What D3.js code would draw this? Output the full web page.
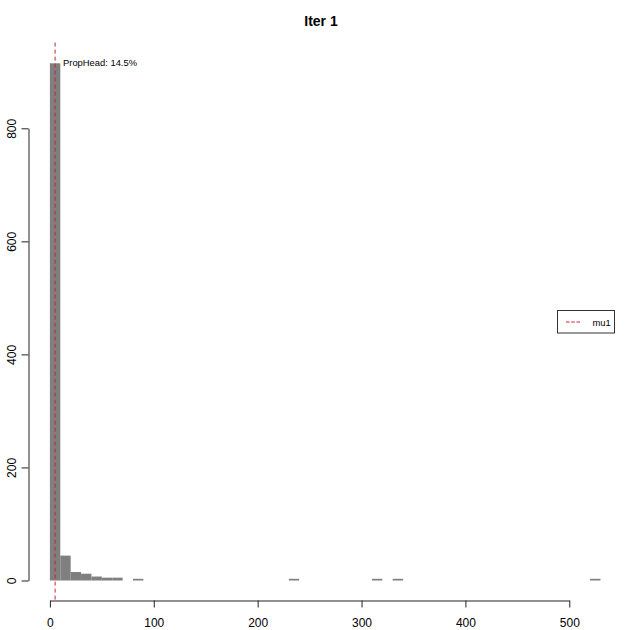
<!DOCTYPE html>
<html>
<head>
<meta charset="utf-8">
<script src="https://cdn.jsdelivr.net/npm/d3@7"></script>
<style>
  html, body { margin: 0; padding: 0; background: #ffffff; }
  svg { display: block; font-family: "Liberation Sans", Arial, sans-serif; }
</style>
</head>
<body>
<svg id="chart" width="630" height="630"></svg>
<script>
// ---- data ----
const binStarts = [0, 10, 20, 30, 40, 50, 60, 80, 230, 310, 330, 520];
const binWidth = 10;
const counts    = [915, 44, 15, 12, 7, 5, 5, 3, 3, 3, 3, 3];
const xTicks = [0, 100, 200, 300, 400, 500];
const yTicks = [0, 200, 400, 600, 800];
const mu1 = 5;
const titleText = "Iter 1";
const annotText = "PropHead: 14.5%";
const legendLabels = ["mu1"];

// ---- scales ----
const svg = d3.select("#chart");
const x = d3.scaleLinear().domain([0, 500]).range([49.9, 569.3]);
const y = d3.scaleLinear().domain([0, 800]).range([580.5, 128.3]);
const yMax = d3.max(counts);
const yExt = 0.04 * yMax;

// title
svg.append("text")
  .attr("x", 321).attr("y", 26)
  .attr("text-anchor", "middle")
  .attr("font-size", 14).attr("font-weight", "bold")
  .attr("fill", "#000")
  .text(titleText);

// bars
const bins = binStarts.map((s, i) => ({ x0: s, x1: s + binWidth, n: counts[i] }));
svg.append("g").selectAll("rect").data(bins).join("rect")
  .attr("x", d => x(d.x0))
  .attr("width", d => x(d.x1) - x(d.x0))
  .attr("y", d => y(d.n))
  .attr("height", d => y(0) - y(d.n))
  .attr("fill", "#7f7f7f");

// mu1 vertical dashed line
svg.append("line")
  .attr("x1", x(mu1)).attr("x2", x(mu1))
  .attr("y1", y(yMax + yExt)).attr("y2", y(-yExt))
  .attr("stroke", "#d0202e").attr("stroke-width", 1)
  .attr("stroke-dasharray", "4,3");

// annotation
svg.append("text")
  .attr("x", 63).attr("y", 66)
  .attr("font-size", 9.4).attr("fill", "#000")
  .text(annotText);

// x axis
const xAxis = svg.append("g")
  .attr("transform", "translate(0,600.5)")
  .call(d3.axisBottom(x).tickValues(xTicks).tickSize(7).tickSizeOuter(0).tickPadding(11).tickFormat(d3.format("d")));
xAxis.selectAll("path, line").attr("stroke", "#222");
xAxis.selectAll("text").attr("font-size", 12).attr("fill", "#000")
  .attr("font-family", "Liberation Sans, Arial, sans-serif");

// y axis
const yAxis = svg.append("g")
  .attr("transform", "translate(28.5,0)")
  .call(d3.axisLeft(y).tickValues(yTicks).tickSize(7).tickSizeOuter(0).tickFormat(d3.format("d")));
yAxis.selectAll("path, line").attr("stroke", "#222");
yAxis.selectAll("text").remove();
yAxis.selectAll(".tick").append("text")
  .attr("transform", "translate(-12.5,0) rotate(-90)")
  .attr("text-anchor", "middle")
  .attr("font-size", 12).attr("fill", "#000")
  .attr("font-family", "Liberation Sans, Arial, sans-serif")
  .text(d => d3.format("d")(d));

// legend
const lg = svg.append("g");
lg.append("rect")
  .attr("x", 557.5).attr("y", 310.5).attr("width", 57).attr("height", 22.5)
  .attr("fill", "#fff").attr("stroke", "#333").attr("stroke-width", 1);
lg.append("line")
  .attr("x1", 566).attr("x2", 580).attr("y1", 322).attr("y2", 322)
  .attr("stroke", "#d0202e").attr("stroke-width", 1).attr("stroke-dasharray", "3.5,1.75");
lg.append("text")
  .attr("x", 592.5).attr("y", 325.5)
  .attr("font-size", 9.4).attr("fill", "#000")
  .text(legendLabels[0]);
</script>
</body>
</html>
